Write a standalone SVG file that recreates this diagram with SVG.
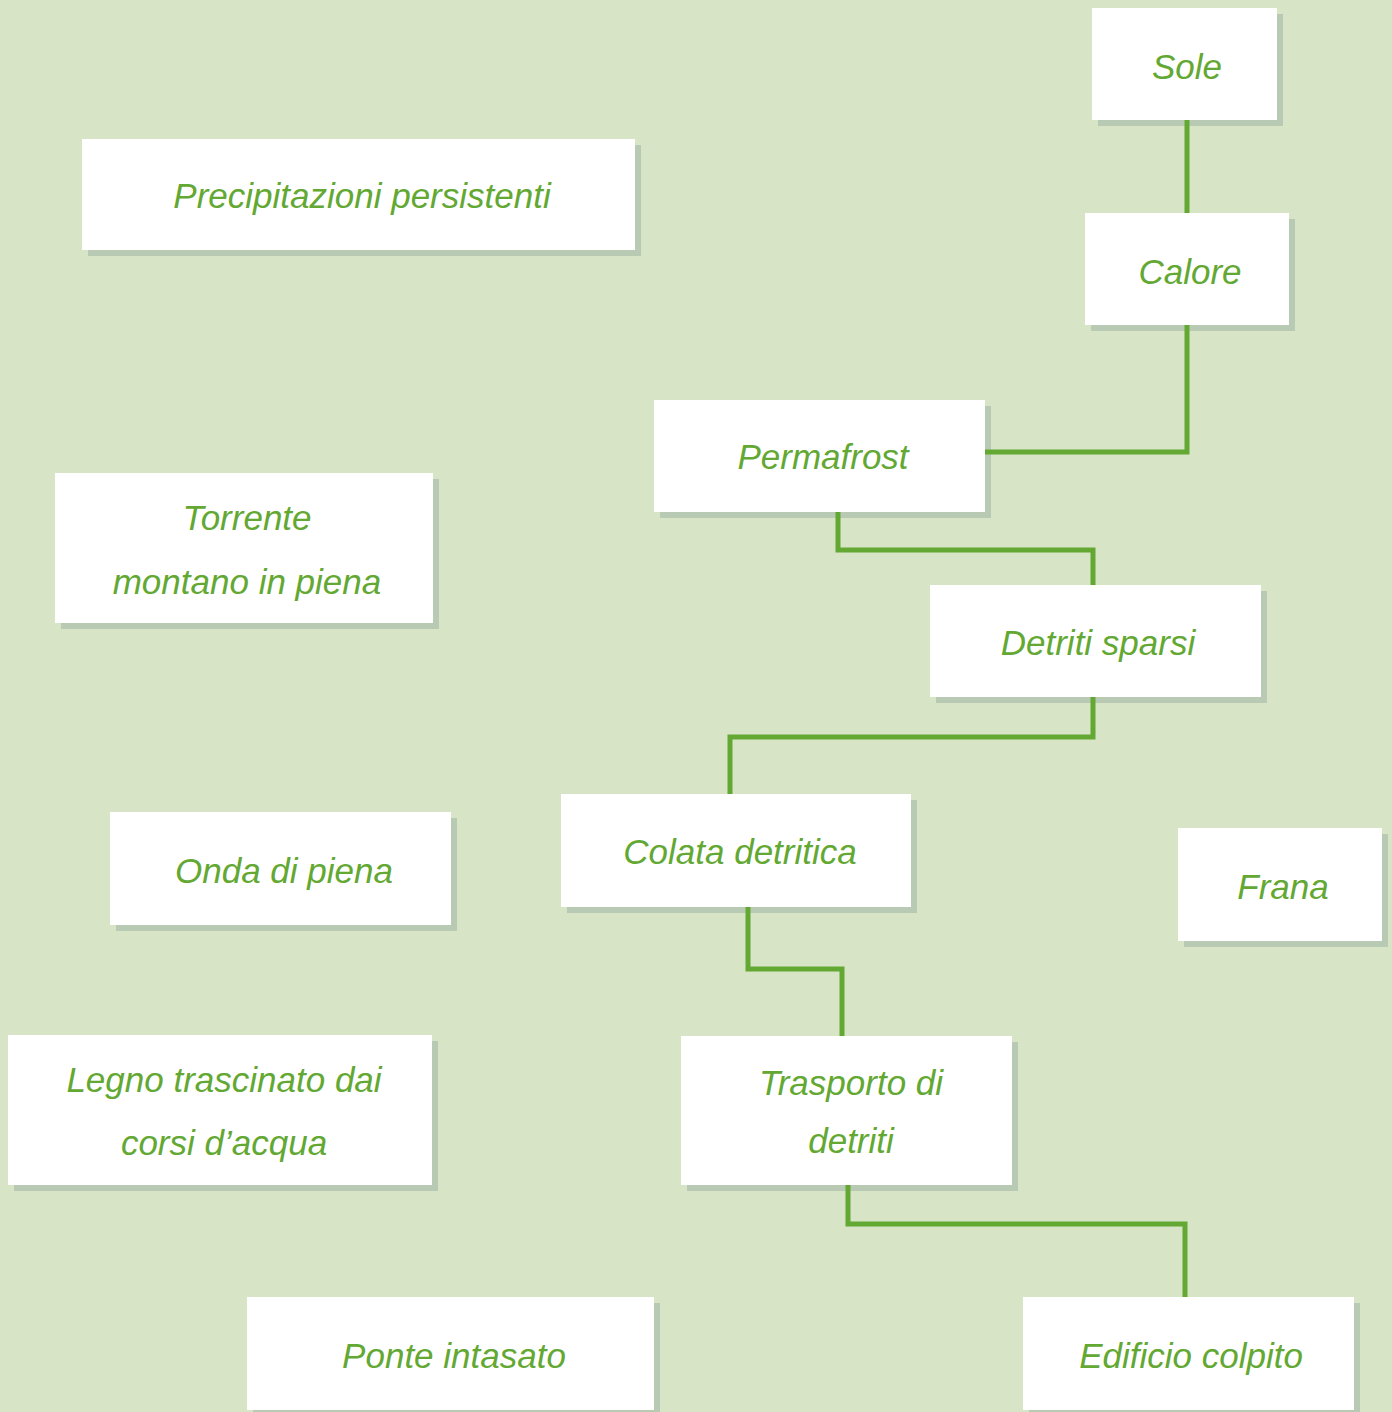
<svg xmlns="http://www.w3.org/2000/svg" width="1392" height="1412" viewBox="0 0 1392 1412">
<style>
.bg{fill:#d7e4c6}
.shadow{fill:#b8cab3}
.box{fill:#ffffff}
.lbl{font-family:"Liberation Sans","DejaVu Sans",sans-serif;font-style:italic;font-size:35px;fill:#62a832;text-anchor:middle;dominant-baseline:central}
.conn{fill:none;stroke:#62a832;stroke-width:5;stroke-linejoin:miter}
</style>
<rect class="bg" x="0" y="0" width="1392" height="1412"/>
<g id="sole"><rect class="shadow" x="1098" y="14" width="185" height="112"/><rect class="box" x="1092" y="8" width="185" height="112"/><text class="lbl" x="1187" y="66">Sole</text></g>
<g id="calore"><rect class="shadow" x="1091" y="219" width="204" height="112"/><rect class="box" x="1085" y="213" width="204" height="112"/><text class="lbl" x="1190" y="271">Calore</text></g>
<g id="precipitazioni"><rect class="shadow" x="88" y="145" width="553" height="111"/><rect class="box" x="82" y="139" width="553" height="111"/><text class="lbl" x="362" y="195">Precipitazioni persistenti</text></g>
<g id="permafrost"><rect class="shadow" x="660" y="406" width="331" height="112"/><rect class="box" x="654" y="400" width="331" height="112"/><text class="lbl" x="823" y="456">Permafrost</text></g>
<g id="torrente"><rect class="shadow" x="61" y="479" width="378" height="150"/><rect class="box" x="55" y="473" width="378" height="150"/><text class="lbl" x="247" y="517">Torrente</text><text class="lbl" x="247" y="581">montano in piena</text></g>
<g id="detriti-sparsi"><rect class="shadow" x="936" y="591" width="331" height="112"/><rect class="box" x="930" y="585" width="331" height="112"/><text class="lbl" x="1098" y="642">Detriti sparsi</text></g>
<g id="colata"><rect class="shadow" x="567" y="800" width="350" height="113"/><rect class="box" x="561" y="794" width="350" height="113"/><text class="lbl" x="740" y="851">Colata detritica</text></g>
<g id="onda"><rect class="shadow" x="116" y="818" width="341" height="113"/><rect class="box" x="110" y="812" width="341" height="113"/><text class="lbl" x="284" y="870">Onda di piena</text></g>
<g id="frana"><rect class="shadow" x="1184" y="834" width="204" height="113"/><rect class="box" x="1178" y="828" width="204" height="113"/><text class="lbl" x="1283" y="886">Frana</text></g>
<g id="legno"><rect class="shadow" x="14" y="1041" width="424" height="150"/><rect class="box" x="8" y="1035" width="424" height="150"/><text class="lbl" x="224" y="1079">Legno trascinato dai</text><text class="lbl" x="224" y="1142">corsi d’acqua</text></g>
<g id="trasporto"><rect class="shadow" x="687" y="1042" width="331" height="149"/><rect class="box" x="681" y="1036" width="331" height="149"/><text class="lbl" x="851" y="1082">Trasporto di</text><text class="lbl" x="851" y="1140">detriti</text></g>
<g id="ponte"><rect class="shadow" x="253" y="1303" width="407" height="113"/><rect class="box" x="247" y="1297" width="407" height="113"/><text class="lbl" x="454" y="1355">Ponte intasato</text></g>
<g id="edificio"><rect class="shadow" x="1029" y="1303" width="331" height="113"/><rect class="box" x="1023" y="1297" width="331" height="113"/><text class="lbl" x="1191" y="1355">Edificio colpito</text></g>
<g id="connectors">
<path class="conn" d="M1187 120 V213"/>
<path class="conn" d="M1187 325 V452 H985"/>
<path class="conn" d="M838 512 V550 H1093 V585"/>
<path class="conn" d="M1093 697 V737 H730 V794"/>
<path class="conn" d="M748 907 V969 H842 V1036"/>
<path class="conn" d="M848 1185 V1224 H1185 V1297"/>
</g>
</svg>
